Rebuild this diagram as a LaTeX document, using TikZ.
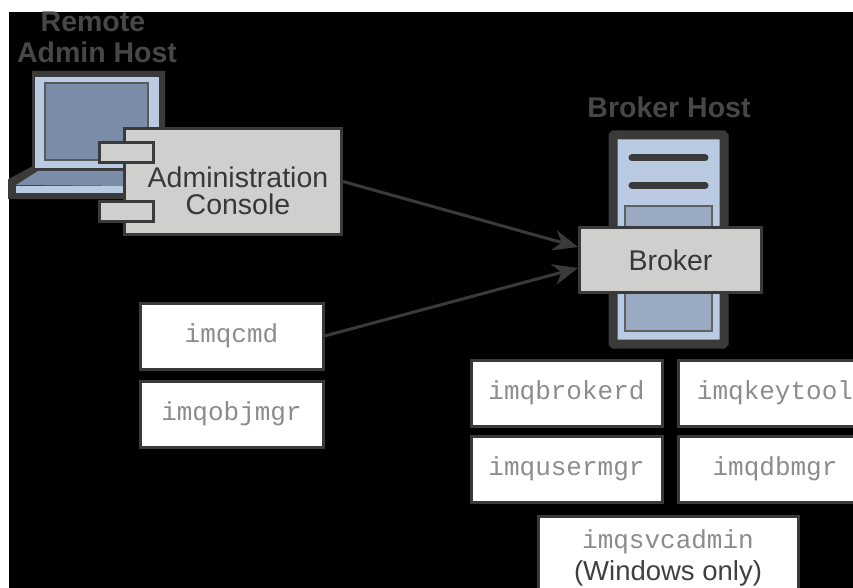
\documentclass[tikz,border=0pt]{standalone}
\usepackage{fontspec}
\setmainfont{Liberation Sans}
\setmonofont{Liberation Mono}
\usetikzlibrary{%
  arrows.meta,%
  positioning}
\definecolor{edgegray}{HTML}{3A3A3A}
\definecolor{panelgray}{HTML}{CFCFCD}
\definecolor{paleblue}{HTML}{BACAE3}
\definecolor{midblue}{HTML}{9AAAC2}
\definecolor{screenblue}{HTML}{7B8CA8}

\begin{document}
\begin{tikzpicture}
  [x=1pt,y=-1pt,>={Stealth[length=25pt,width=21pt]},
   hostlabel/.style={font=\fontsize{28.5}{31}\selectfont\bfseries,text=black!72,inner sep=0pt},
   component/.style={rectangle,line width=3pt,draw=edgegray,fill=panelgray,inner sep=0pt},
   caption/.style={align=center,font=\fontsize{28.5}{27}\selectfont,text=black!78,inner sep=0pt},
   tab/.style={rectangle,line width=3pt,draw=edgegray,fill=panelgray,
     minimum width=54pt,minimum height=20pt,inner sep=0pt},
   tool/.style={rectangle,line width=3pt,draw=edgegray,fill=white,text=black!45,
     font=\fontsize{26}{31}\selectfont\ttfamily,minimum width=183pt,minimum height=66pt,inner sep=0pt},
   wide tool/.style={tool,minimum width=191pt},
   wider tool/.style={tool,minimum width=194pt},
   link/.style={->,line width=3pt,draw=edgegray}]

  \useasboundingbox (0,0) rectangle (853,588);
  \clip (0,0) rectangle (853,588);
  \fill [white] (0,0) rectangle (853,588);
  \fill [black] (9,12) rectangle (853,588);

  % Laptop
  \filldraw [draw=edgegray,fill=edgegray,line width=2pt]
    (9,180) -- (33,167) -- (33,72) -- (164,72) -- (164,168) -- (130,198) -- (9,198) -- cycle;
  \fill [paleblue] (35,77) rectangle (159,168);
  \filldraw [draw=black!65,fill=screenblue,line width=2pt] (45,83) rectangle (148,160);
  \fill [screenblue] (16,185) -- (38,171) -- (130,171) -- (130,186) -- cycle;
  \fill [paleblue] (16,186) rectangle (130,193);

  % Server
  \filldraw [draw=edgegray,fill=paleblue,line width=9pt,rounded corners=1pt] (613,135) rectangle (724,344);
  \draw [line width=7pt,edgegray,line cap=round] (632,158) -- (705,158);
  \draw [line width=7pt,edgegray,line cap=round] (632,185) -- (705,185);
  \filldraw [draw=black!62,fill=midblue,line width=2pt] (625,206) rectangle (712,331);

  \node [hostlabel] (remote)     at (93,22)   {Remote};
  \node [hostlabel] (adminhost)  at (97,52)   {Admin Host};
  \node [hostlabel] (brokerhost) at (669,107) {Broker Host};

  \node [component,minimum width=217pt,minimum height=106pt] (console) at (233,181.5) {};
  \node [caption] (consoletext) at (238,190.5) {Administration\\Console};
  \node [tab] (tab1) at (126,153) {};
  \node [tab] (tab2) at (126,211.5) {};
  \node [component,minimum width=182pt,minimum height=65pt,caption] (broker) at (670.5,260) {Broker};

  \node [tool] (imqcmd) at (231.5,336) {imqcmd};
  \node [tool] (imqobjmgr) [below=9pt of imqcmd] {imqobjmgr};

  \node [wide tool] (imqbrokerd) at (566.5,393) {imqbrokerd};
  \node [wide tool] (imqusermgr) [below=7pt of imqbrokerd] {imqusermgr};
  \node [wider tool] (imqkeytool) [right=13pt of imqbrokerd] {imqkeytool};
  \node [wider tool] (imqdbmgr) [below=7pt of imqkeytool] {imqdbmgr};
  \node [tool,minimum width=260pt,minimum height=82pt,align=center,anchor=north] (imqsvcadmin) at (668,515)
    {imqsvcadmin\\[1pt]{\rmfamily\fontsize{27.5}{31}\selectfont\color{black!75}(Windows only)}};

  \draw [link] (console.east) -- ([yshift=13pt]broker.west);
  \draw [link] (imqcmd.east) -- ([yshift=-8pt]broker.west);

\end{tikzpicture}
\end{document}
